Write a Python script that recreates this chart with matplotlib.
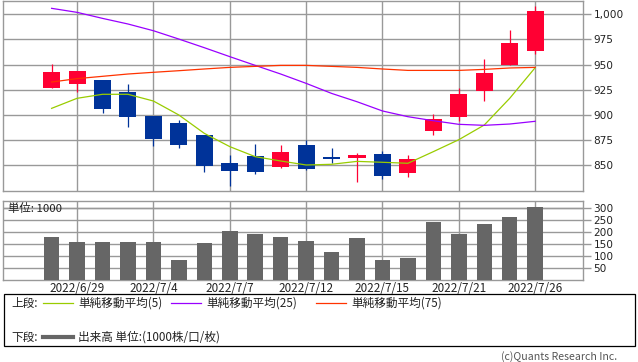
import matplotlib
matplotlib.use("Agg")
import matplotlib.pyplot as plt
from matplotlib.lines import Line2D
from matplotlib.patches import Rectangle

dates = ["2022/6/28", "2022/6/29", "2022/6/30", "2022/7/1", "2022/7/4", "2022/7/5",
         "2022/7/6", "2022/7/7", "2022/7/8", "2022/7/11", "2022/7/12", "2022/7/13",
         "2022/7/14", "2022/7/15", "2022/7/19", "2022/7/20", "2022/7/21", "2022/7/22",
         "2022/7/25", "2022/7/26"]
opens = [927, 931, 935, 923, 899, 892, 880, 852, 859, 848, 870, 857.5,
         857, 861, 842, 884, 898, 924, 949.5, 963.5]
closes = [943, 943.5, 906, 898, 876, 870, 849, 844, 843, 863, 846, 855.5,
          860, 839.5, 856, 896, 921, 942, 971, 1003]
highs = [951, 944, 935, 931, 899, 895, 880, 860, 871, 870, 875, 867,
         862, 864, 860, 901, 927, 955.5, 984.5, 1008]
lows = [927, 923, 902, 888, 869, 867, 843, 829, 841, 847, 845, 852,
        833, 836, 838, 880, 894, 914, 949.5, 961]
ma5 = [906.4, 916.4, 920.4, 920.4, 913.7, 899.8, 881.5, 868.3, 858.3, 854, 850,
       850.7, 853.6, 852.7, 851.7, 863.3, 875.2, 889.8, 916.4, 946.9]
ma25 = [1006, 1002, 996, 990.4, 983.7, 975.4, 966.8, 957.9, 949.2, 940.6, 931.3,
        921.3, 913, 903.8, 898.1, 894.1, 890.5, 889.5, 890.8, 893.5]
ma75 = [932.6, 936, 938.3, 940.6, 942.3, 943.9, 945.6, 947.2, 948.2, 949.2, 949.2,
        948.2, 947.2, 945.6, 944.2, 944.2, 944.2, 945.2, 946.6, 947.2]
volumes = [180, 159, 159, 159, 159, 84, 155, 205, 193, 180, 163, 117,
           176, 84, 92, 243, 193, 235, 264, 306]
price_ticks = [850, 875, 900, 925, 950, 975, 1000]
price_labels = ["850", "875", "900", "925", "950", "975", "1,000"]
vol_ticks = [50, 100, 150, 200, 250, 300]
label_idx = [1, 4, 7, 10, 13, 16, 19]

RED = "#ff0033"
BLUE = "#003399"
GRID = "#999999"
JP = ["Noto Sans CJK JP", "DejaVu Sans"]

W, H = 638, 362
fig = plt.figure(figsize=(W / 100, H / 100), dpi=100)


def ax_px(left, top, right, bottom):
    return fig.add_axes([left / W, 1 - bottom / H, (right - left) / W, (bottom - top) / H])


def fx(x):
    return x / W


def fy(y):
    return 1 - y / H


xlim = (-1.91, 20.86)
n = len(dates)
xs = list(range(n))

# ---------- price panel ----------
ax = ax_px(3, 0.5, 582.5, 190.5)
ax.set_xlim(*xlim)
ax.set_ylim(824.6, 1013.8)
for i in xs:
    o, c, h, l = opens[i], closes[i], highs[i], lows[i]
    col = RED if c >= o else BLUE
    ax.vlines(i, l, h, color=col, lw=0.9, zorder=3)
    bot = min(o, c)
    ht = max(abs(c - o), 1.2)
    ax.bar(i, ht, bottom=bot, width=0.67, color=col, zorder=4, linewidth=0)
ax.plot(xs, ma5, color="#99cc00", lw=0.9, zorder=5)
ax.plot(xs, ma25, color="#9900ff", lw=0.9, zorder=5)
ax.plot(xs, ma75, color="#ff3300", lw=0.9, zorder=5)

ax.set_yticks(price_ticks)
ax.set_yticklabels(price_labels)
ax.set_xticks(label_idx)
ax.set_xticklabels([])
ax.grid(True, color=GRID, lw=1.0, zorder=0)
ax.set_axisbelow(True)
ax.yaxis.tick_right()
ax.tick_params(axis="y", which="both", length=6, width=1, color=GRID,
               labelsize=7.6, pad=2, labelcolor="#222222")
ax.tick_params(axis="x", length=0)
for s in ax.spines.values():
    s.set_color(GRID)
    s.set_linewidth(1.0)

# ---------- volume panel ----------
av = ax_px(3, 200.7, 582.5, 280.3)
av.set_xlim(*xlim)
av.set_ylim(0, 331.7)
av.bar(xs, volumes, width=0.61, color="#666666", zorder=3, linewidth=0)
av.set_yticks(vol_ticks)
av.set_xticks(label_idx)
av.set_xticklabels([])
av.grid(True, color=GRID, lw=1.0, zorder=0)
av.axhline(300, color=GRID, lw=1.0, zorder=0)
av.set_axisbelow(True)
av.yaxis.tick_right()
av.tick_params(axis="y", length=6, width=1, color=GRID, labelsize=7.6, pad=2,
               labelcolor="#222222")
av.tick_params(axis="x", length=0)
for s in av.spines.values():
    s.set_color(GRID)
    s.set_linewidth(1.0)
av.text(0.008, 0.9, "単位: 1000", transform=av.transAxes, fontsize=8.2,
        family=JP, va="center", ha="left", color="#222222", zorder=1)

# date labels
for i in label_idx:
    x_px = 3 + (i - xlim[0]) / (xlim[1] - xlim[0]) * 579.5
    fig.text(fx(x_px), fy(288), dates[i], fontsize=8.4, family=JP,
             ha="center", va="center", color="#222222")

# ---------- legend box ----------
fig.add_artist(Rectangle((fx(3.5), fy(346)), fx(631), 52 / H, fill=False,
                         edgecolor="black", lw=0.9, transform=fig.transFigure))
row1, row2 = 303, 337
fig.text(fx(11), fy(row1), "上段:", fontsize=8.4, family=JP, va="center", color="#222222")
fig.text(fx(11), fy(row2), "下段:", fontsize=8.4, family=JP, va="center", color="#222222")
for x0, col, lab in [(43, "#99cc00", "単純移動平均(5)"),
                     (171, "#9900ff", "単純移動平均(25)"),
                     (316, "#ff3300", "単純移動平均(75)")]:
    fig.add_artist(Line2D([fx(x0), fx(x0 + 30)], [fy(row1), fy(row1)], color=col,
                          lw=0.9, transform=fig.transFigure))
    fig.text(fx(x0 + 35), fy(row1), lab, fontsize=8.4, family=JP, va="center",
             color="#222222")
fig.add_artist(Line2D([fx(43), fx(73)], [fy(row2), fy(row2)], color="#666666",
                      lw=3, transform=fig.transFigure))
fig.text(fx(78), fy(row2), "出来高 単位:(1000株/口/枚)", fontsize=8.4, family=JP,
         va="center", color="#222222")

fig.text(fx(617), fy(357), "(c)Quants Research Inc.", fontsize=7.6, family=JP,
         ha="right", va="center", color="#555555")

fig.savefig("out.png", dpi=100)
